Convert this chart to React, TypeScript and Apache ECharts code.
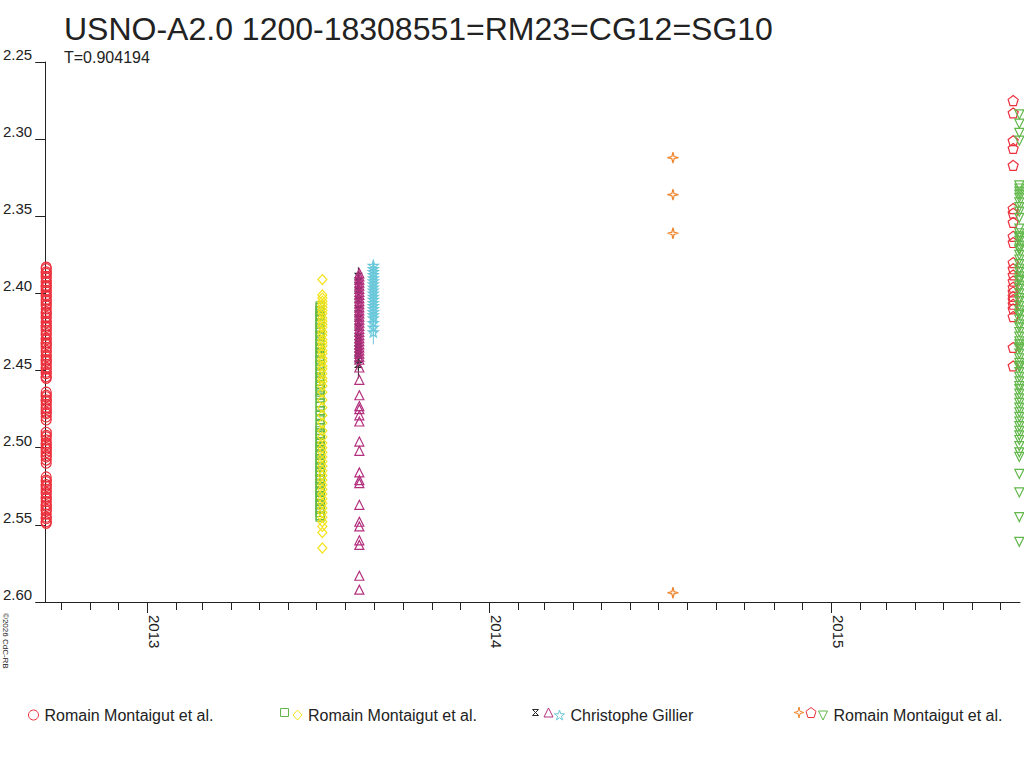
import React, { useEffect, useRef } from "react";
import * as echarts from "echarts";

const FONT = '"Liberation Sans", Arial, Helvetica, sans-serif';
const TXT = "#222";

const TITLE = "USNO-A2.0 1200-18308551=RM23=CG12=SG10";
const SUBTITLE = "T=0.904194";
const COPYRIGHT = "\u00a92026 CdC-RB";

const X_MIN = 2012.702;
const X_MAX = 2015.553;
const Y_MIN = 2.25;
const Y_MAX = 2.6;
const Y_STEP = 0.05;
const yearLabels = [2013, 2014, 2015];

// epochs (decimal years) of each group of observations
const X_RM1 = 2012.705;
const X_RM2_SQ = 2013.506;
const X_RM2_DI = 2013.5126;
const X_CG_BK = 2013.618;
const X_CG_TR = 2013.6208;
const X_CG_ST = 2013.6617;
const X_RM3_4S = 2014.538;
const X_RM3_PE = 2015.533;
const X_RM3_TR = 2015.551;

const redCircles = [
  2.383, 2.384, 2.386, 2.387, 2.389, 2.39, 2.392, 2.393, 2.395, 2.396, 2.398, 2.399, 2.401, 2.402,
  2.404, 2.405, 2.407, 2.408, 2.41, 2.412, 2.413, 2.415, 2.416, 2.418, 2.419, 2.421, 2.422, 2.424,
  2.426, 2.427, 2.429, 2.43, 2.432, 2.433, 2.435, 2.437, 2.438, 2.44, 2.441, 2.443, 2.444, 2.446,
  2.448, 2.449, 2.451, 2.452, 2.454, 2.455, 2.464, 2.466, 2.467, 2.469, 2.47, 2.472, 2.474, 2.475,
  2.477, 2.478, 2.48, 2.482, 2.49, 2.492, 2.493, 2.495, 2.497, 2.498, 2.5, 2.501, 2.503, 2.505,
  2.506, 2.508, 2.51, 2.519, 2.521, 2.522, 2.524, 2.525, 2.527, 2.529, 2.53, 2.532, 2.533, 2.535,
  2.537, 2.538, 2.54, 2.541, 2.543, 2.545, 2.546, 2.548, 2.549,
];

const greenSquares = [
  2.408, 2.409, 2.411, 2.412, 2.414, 2.415, 2.417, 2.419, 2.42, 2.422, 2.423, 2.425, 2.427, 2.428,
  2.43, 2.431, 2.433, 2.435, 2.436, 2.438, 2.439, 2.441, 2.443, 2.444, 2.446, 2.447, 2.449, 2.451,
  2.452, 2.454, 2.455, 2.457, 2.459, 2.46, 2.462, 2.464, 2.466, 2.468, 2.471, 2.473, 2.476, 2.479,
  2.482, 2.485, 2.487, 2.489, 2.491, 2.492, 2.494, 2.496, 2.497, 2.499, 2.5, 2.502, 2.504, 2.505,
  2.507, 2.508, 2.51, 2.512, 2.513, 2.515, 2.516, 2.518, 2.52, 2.521, 2.523, 2.524, 2.526, 2.528,
  2.529, 2.531, 2.532, 2.534, 2.536, 2.537, 2.539, 2.54, 2.542, 2.544, 2.545,
];

const yellowDiamonds = [
  2.391, 2.401, 2.403, 2.405, 2.407, 2.409, 2.411, 2.413, 2.416, 2.418, 2.42, 2.422, 2.425, 2.427,
  2.43, 2.432, 2.434, 2.437, 2.439, 2.442, 2.444, 2.447, 2.449, 2.452, 2.455, 2.457, 2.46, 2.464,
  2.469, 2.474, 2.479, 2.484, 2.489, 2.493, 2.497, 2.5, 2.503, 2.506, 2.509, 2.512, 2.515, 2.518,
  2.521, 2.524, 2.527, 2.53, 2.533, 2.536, 2.539, 2.542, 2.545, 2.548, 2.551, 2.555, 2.565,
];

const blackMarks = [
  2.389, 2.392, 2.395, 2.398, 2.401, 2.404, 2.407, 2.41, 2.413, 2.416, 2.419, 2.422, 2.425, 2.428,
  2.43, 2.432, 2.434, 2.436, 2.438, 2.44, 2.443, 2.446,
];
const blackErr = [
  0.006, 0.005, 0.005, 0.006, 0.005, 0.006, 0.005, 0.005, 0.006, 0.005, 0.006, 0.005, 0.006, 0.005,
  0.006, 0.007, 0.006, 0.007, 0.006, 0.008, 0.007, 0.009,
];

const magentaTriangles = [
  2.387, 2.389, 2.391, 2.393, 2.395, 2.397, 2.399, 2.401, 2.403, 2.405, 2.407, 2.409, 2.411, 2.413,
  2.415, 2.417, 2.419, 2.421, 2.423, 2.425, 2.427, 2.429, 2.431, 2.433, 2.435, 2.437, 2.439, 2.441,
  2.443, 2.448, 2.456, 2.466, 2.473, 2.475, 2.479, 2.483, 2.496, 2.502, 2.516, 2.521, 2.523, 2.537,
  2.548, 2.551, 2.56, 2.563, 2.583, 2.592,
];

const cyanStars = [
  2.382, 2.384, 2.386, 2.388, 2.39, 2.392, 2.394, 2.396, 2.398, 2.4, 2.402, 2.404, 2.406, 2.408,
  2.41, 2.412, 2.414, 2.416, 2.419, 2.422, 2.425,
];
const cyanErr = [
  0.004, 0.004, 0.004, 0.004, 0.004, 0.004, 0.004, 0.004, 0.004, 0.004, 0.004, 0.004, 0.004, 0.004,
  0.004, 0.004, 0.004, 0.005, 0.005, 0.006, 0.008,
];

const orangeStars = [2.312, 2.336, 2.361, 2.594];

const redPentagons = [
  2.275, 2.283, 2.301, 2.306, 2.317, 2.345, 2.348, 2.354, 2.363, 2.367, 2.38, 2.384, 2.388, 2.392,
  2.396, 2.399, 2.402, 2.404, 2.407, 2.41, 2.415, 2.435, 2.447,
];

const greenInvTriangles = [
  2.284, 2.29, 2.296, 2.301, 2.33, 2.332, 2.334, 2.336, 2.338, 2.341, 2.344, 2.347, 2.351, 2.358,
  2.361, 2.363, 2.364, 2.366, 2.369, 2.371, 2.372, 2.375, 2.378, 2.381, 2.384, 2.386, 2.389, 2.391,
  2.392, 2.395, 2.397, 2.4, 2.403, 2.405, 2.408, 2.411, 2.413, 2.414, 2.417, 2.42, 2.422, 2.425,
  2.428, 2.431, 2.433, 2.435, 2.436, 2.439, 2.442, 2.445, 2.447, 2.448, 2.451, 2.454, 2.457, 2.46,
  2.462, 2.465, 2.468, 2.471, 2.474, 2.477, 2.48, 2.483, 2.486, 2.489, 2.492, 2.495, 2.499, 2.503,
  2.506, 2.517, 2.529, 2.545, 2.561,
];

const LEGEND_RM = "Romain Montaigut et al.";
const LEGEND_CG = "Christophe Gillier";

const C_RED = "#ec2f3b";
const C_GREEN = "#62b84a";
const C_YELLOW = "#f4e41c";
const C_BLACK = "#2a2a2a";
const C_MAGENTA = "#b3307f";
const C_CYAN = "#6ac8da";
const C_ORANGE = "#f0862c";

const SYM_BOWTIE = "path://M0,0L10,10L0,10L10,0Z";
const SYM_STAR5 =
  "path://M5,0L6.2,3.6L10,3.6L6.9,5.9L8.1,9.5L5,7.3L1.9,9.5L3.1,5.9L0,3.6L3.8,3.6Z";
const SYM_STAR4 = "path://M5,0L6,4L10,5L6,6L5,10L4,6L0,5L4,4Z";
const SYM_PENTA = "path://M5,0L10,3.8L8.1,10L1.9,10L0,3.8Z";
const SYM_INVTRI = "path://M0,0L10,0L5,10Z";

function monthTicks(): number[] {
  const out: number[] = [];
  for (let y = 2012; y <= 2015; y++) {
    const s = Date.UTC(y, 0, 1);
    const e = Date.UTC(y + 1, 0, 1);
    for (let m = 0; m < 12; m++) {
      const v = y + (Date.UTC(y, m, 1) - s) / (e - s);
      if (v >= X_MIN && v <= X_MAX) out.push(v);
    }
  }
  return out;
}

const HOLLOW = "rgba(255,255,255,0)";

function scatter(name: string, x: number, ys: number[], symbol: string, size: number | number[], color: string) {
  return {
    name,
    type: "scatter",
    data: ys.map((y) => [x, y]),
    symbol,
    symbolSize: size,
    clip: false,
    itemStyle: { color: HOLLOW, borderColor: color, borderWidth: 1.2, opacity: 1 },
    emphasis: { disabled: true },
    silent: true,
  };
}

function errBars(name: string, x: number, ys: number[], errs: number[], color: string) {
  return {
    name,
    type: "custom",
    silent: true,
    data: ys.map((y, i) => [x, y - errs[i], y + errs[i]]),
    encode: { x: 0, y: [1, 2] },
    renderItem: (params: any, api: any) => {
      const xv = api.value(0);
      const p1 = api.coord([xv, api.value(1)]);
      const p2 = api.coord([xv, api.value(2)]);
      return {
        type: "line",
        shape: { x1: p1[0], y1: p1[1], x2: p2[0], y2: p2[1] },
        style: { stroke: color, lineWidth: 1 },
      };
    },
  };
}

function legendItem(name: string, left: number, icon: string, w: number, h: number, color: string, label: string) {
  return {
    show: true,
    left,
    top: 712 - h / 2,
    padding: 0,
    itemWidth: w,
    itemHeight: h,
    selectedMode: false,
    symbolKeepAspect: false,
    formatter: () => label,
    textStyle: { fontFamily: FONT, fontSize: 16, color: TXT, padding: [0, 0, 0, 1] },
    data: [
      {
        name,
        icon,
        itemStyle: { color: HOLLOW, borderColor: color, borderWidth: 1 },
      },
    ],
  };
}

export default function App() {
  const ref = useRef<HTMLDivElement>(null);
  useEffect(() => {
    document.body.style.margin = "0";
    const chart = echarts.init(ref.current!, null, { renderer: "svg" });
    const option: any = {
      animation: false,
      backgroundColor: "#fff",
      textStyle: { fontFamily: FONT },
      title: {
        text: TITLE,
        subtext: SUBTITLE,
        left: 64,
        top: 13,
        itemGap: 4,
        padding: 0,
        textStyle: { fontFamily: FONT, fontSize: 32, fontWeight: "normal", color: TXT },
        subtextStyle: { fontFamily: FONT, fontSize: 16, color: TXT },
      },
      grid: { left: 45, top: 62, right: 4, bottom: 166, containLabel: false },
      xAxis: [
        {
          type: "value",
          min: X_MIN,
          max: X_MAX,
          position: "bottom",
          axisLine: { show: true, onZero: false, lineStyle: { color: TXT, width: 1 } },
          axisTick: { show: true, customValues: monthTicks(), length: 8, lineStyle: { color: TXT } },
          axisLabel: { show: false },
          splitLine: { show: false },
        },
        {
          type: "value",
          min: X_MIN,
          max: X_MAX,
          position: "bottom",
          axisLine: { show: false, onZero: false },
          axisTick: { show: true, customValues: yearLabels, length: 11, lineStyle: { color: TXT } },
          axisLabel: {
            show: true,
            customValues: yearLabels,
            rotate: -90,
            margin: 13,
            verticalAlign: "bottom",
            fontFamily: FONT,
            fontSize: 15,
            color: TXT,
            formatter: (v: number) => String(Math.round(v)),
          },
          splitLine: { show: false },
        },
      ],
      yAxis: {
        type: "value",
        inverse: true,
        min: Y_MIN,
        max: Y_MAX,
        interval: Y_STEP,
        axisLine: { show: true, lineStyle: { color: TXT, width: 1 } },
        axisTick: { show: true, length: 10, lineStyle: { color: TXT } },
        axisLabel: {
          margin: 13,
          verticalAlign: "bottom",
          fontFamily: FONT,
          fontSize: 15,
          color: TXT,
          formatter: (v: number) => v.toFixed(2),
        },
        splitLine: { show: false },
      },
      legend: [
        legendItem("rm1", 28, "circle", 10, 10, C_RED, LEGEND_RM),
        legendItem("rm2sq", 280, "rect", 8, 8, C_GREEN, ""),
        legendItem("rm2di", 292.5, "diamond", 9, 10, C_YELLOW, LEGEND_RM),
        legendItem("cgbk", 532, SYM_BOWTIE, 6, 6, C_BLACK, ""),
        legendItem("cgtr", 543.5, "triangle", 9, 9, C_MAGENTA, ""),
        legendItem("cgst", 554, SYM_STAR5, 10, 10, C_CYAN, LEGEND_CG),
        legendItem("rm3s4", 793.5, SYM_STAR4, 10, 11, C_ORANGE, ""),
        legendItem("rm3pe", 805.5, SYM_PENTA, 10, 10, C_RED, ""),
        legendItem("rm3tr", 818, SYM_INVTRI, 9, 9, C_GREEN, LEGEND_RM),
      ],
      graphic: [
        {
          type: "text",
          x: 1,
          y: 613,
          rotation: -Math.PI / 2,
          style: {
            text: COPYRIGHT,
            fontFamily: FONT,
            fontSize: 8,
            fill: TXT,
            verticalAlign: "bottom",
            align: "left",
          },
          silent: true,
        },
      ],
      series: [
        scatter("rm1", X_RM1, redCircles, "circle", 10, C_RED),
        scatter("rm2sq", X_RM2_SQ, greenSquares, "rect", 8, C_GREEN),
        scatter("rm2di", X_RM2_DI, yellowDiamonds, "diamond", [9, 10], C_YELLOW),
        errBars("cgbkErr", X_CG_BK, blackMarks, blackErr, C_BLACK),
        scatter("cgbk", X_CG_BK, blackMarks, SYM_BOWTIE, 6, C_BLACK),
        scatter("cgtr", X_CG_TR, magentaTriangles, "triangle", [9, 9], C_MAGENTA),
        errBars("cgstErr", X_CG_ST, cyanStars, cyanErr, C_CYAN),
        scatter("cgst", X_CG_ST, cyanStars, SYM_STAR5, 10, C_CYAN),
        scatter("rm3s4", X_RM3_4S, orangeStars, SYM_STAR4, 11, C_ORANGE),
        scatter("rm3pe", X_RM3_PE, redPentagons, SYM_PENTA, 10, C_RED),
        scatter("rm3tr", X_RM3_TR, greenInvTriangles, SYM_INVTRI, 9, C_GREEN),
      ],
    };
    chart.setOption(option);
    return () => chart.dispose();
  }, []);
  return <div ref={ref} style={{ width: 1024, height: 768 }} />;
}
